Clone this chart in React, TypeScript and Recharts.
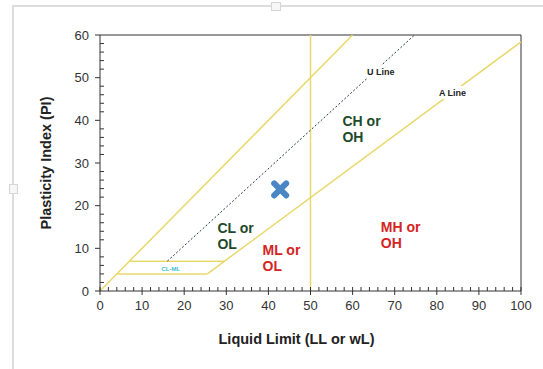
import React from "react";
import {
  ComposedChart,
  Line,
  Scatter,
  XAxis,
  YAxis,
  ReferenceLine,
} from "recharts";

// ---- data ----
const xTicks = [0, 2, 4, 6, 8, 10, 12, 14, 16, 18, 20, 22, 24, 26, 28, 30, 32, 34, 36, 38, 40, 42, 44, 46, 48, 50, 52, 54, 56, 58, 60, 62, 64, 66, 68, 70, 72, 74, 76, 78, 80, 82, 84, 86, 88, 90, 92, 94, 96, 98, 100];
const yTicks = [0, 2, 4, 6, 8, 10, 12, 14, 16, 18, 20, 22, 24, 26, 28, 30, 32, 34, 36, 38, 40, 42, 44, 46, 48, 50, 52, 54, 56, 58, 60];

const uLine = [{ ll: 16, pi: 7 }, { ll: 74.7, pi: 60 }];
const aLine = [{ ll: 25.5, pi: 4 }, { ll: 100, pi: 58.4 }];
const upperLine = [{ ll: 0, pi: 0 }, { ll: 60, pi: 60 }];
const boxTop = [{ ll: 7, pi: 7 }, { ll: 29.5, pi: 7 }];
const boxBottom = [{ ll: 4, pi: 4 }, { ll: 25.5, pi: 4 }];
const llLine = [{ ll: 50, pi: 0 }, { ll: 50, pi: 60 }];

const samplePoint = [{ ll: 42.8, pi: 23.8 }];

const zoneNames = [["CL or", "OL"], ["ML or", "OL"], ["CH or", "OH"], ["MH or", "OH"]];
const zoneLL = [27.9, 38.6, 57.6, 66.7];
const zonePI = [14.8, 9.6, 39.8, 15];
const zoneKind = ["clay", "silt", "clay", "silt"];

const smallNames = ["CL-ML", "U Line", "A Line"];
const smallLL = [16.8, 63.4, 80.5];
const smallPI = [5.3, 51.3, 46.4];

const zoneData = zoneNames.map((n, i) => ({ ll: zoneLL[i], pi: zonePI[i], lines: n, kind: zoneKind[i] }));
const smallData = smallNames.map((n, i) => ({ ll: smallLL[i], pi: smallPI[i], name: n }));

const YELLOW = "#e9d86c";
const FONT = "Arial, 'Liberation Sans', sans-serif";

const XTick = (props: any) => {
  const { x, y, payload } = props;
  const v = payload.value;
  const major = v % 10 === 0;
  return (
    <g>
      {major ? (
        <line x1={x} x2={x} y1={y - 4} y2={y + 4} stroke="#333" />
      ) : (
        <line x1={x} x2={x} y1={y} y2={y - 4} stroke="#333" />
      )}
      {major && (
        <text x={x} y={y + 19} textAnchor="middle" fontSize={13} fill="#333" fontFamily={FONT}>
          {v}
        </text>
      )}
    </g>
  );
};

const YTick = (props: any) => {
  const { x, y, payload } = props;
  const v = payload.value;
  const major = v % 10 === 0;
  return (
    <g>
      {major ? (
        <line x1={x - 5} x2={x} y1={y} y2={y} stroke="#333" />
      ) : (
        <line x1={x} x2={x + 4} y1={y} y2={y} stroke="#333" />
      )}
      {major && (
        <text x={x - 11} y={y + 4.5} textAnchor="end" fontSize={13} fill="#333" fontFamily={FONT}>
          {v}
        </text>
      )}
    </g>
  );
};

const ZoneLabel = (props: any) => {
  const { cx, cy, payload } = props;
  const color = payload.kind === "clay" ? "#1d4a2a" : "#d42424";
  return (
    <text x={cx} y={cy + 5} fontSize={14} fontWeight="bold" fill={color} fontFamily={FONT}>
      <tspan x={cx}>{payload.lines[0]}</tspan>
      <tspan x={cx} dy={16}>{payload.lines[1]}</tspan>
    </text>
  );
};

const SmallLabel = (props: any) => {
  const { cx, cy, payload } = props;
  const isCLML = payload.name === "CL-ML";
  if (isCLML) {
    return (
      <text x={cx} y={cy + 2.5} fontSize={6} fontWeight="bold" textAnchor="middle" fill="#3cc0d0" fontFamily={FONT}>
        {payload.name}
      </text>
    );
  }
  return (
    <g>
      <rect x={cx - 2} y={cy - 7} width={32} height={13} fill="#fff" />
      <text x={cx} y={cy + 3} fontSize={9} fontWeight="bold" fill="#222" fontFamily={FONT}>
        {payload.name}
      </text>
    </g>
  );
};

const Cross = (props: any) => {
  const { cx, cy } = props;
  const d = 6;
  return (
    <g stroke="#4a86c4" strokeWidth={6} strokeLinecap="round">
      <line x1={cx - d} y1={cy - d} x2={cx + d} y2={cy + d} />
      <line x1={cx - d} y1={cy + d} x2={cx + d} y2={cy - d} />
    </g>
  );
};

export default function App() {
  return (
    <div style={{ position: "fixed", left: 0, top: 0, width: 543, height: 369, background: "#fff", overflow: "hidden" }}>
      <div style={{ position: "absolute", left: 12, top: 5, width: 600, height: 400, border: "2px solid #dcdcdc", boxSizing: "border-box" }} />
      <div style={{ position: "absolute", left: 271, top: 2, width: 8, height: 7, border: "1px solid #d6d6d6", background: "#f6f6f6" }} />
      <div style={{ position: "absolute", left: 9, top: 184, width: 7, height: 8, border: "1px solid #d6d6d6", background: "#f6f6f6" }} />
      <div style={{ position: "absolute", left: 0, top: 0 }}>
        <ComposedChart width={543} height={369} margin={{ top: 35, right: 22, bottom: 30, left: 40 }}>
          <XAxis
            dataKey="ll"
            type="number"
            domain={[0, 100]}
            ticks={xTicks}
            interval={0}
            tickSize={0}
            tickMargin={0}
            tickLine={false}
            tick={<XTick />}
            height={48}
            stroke="#333"
            allowDataOverflow
            label={{
              content: (p: any) => {
                const vb = p.viewBox;
                return (
                  <text x={vb.x + vb.width / 2 - 14} y={vb.y + 53} textAnchor="middle" fontSize={14.5} fontWeight="bold" fill="#222" fontFamily={FONT}>
                    Liquid Limit (LL or wL)
                  </text>
                );
              },
            }}
          />
          <YAxis
            type="number"
            domain={[0, 60]}
            ticks={yTicks}
            interval={0}
            tickSize={0}
            tickMargin={0}
            tickLine={false}
            tick={<YTick />}
            width={60}
            stroke="#333"
            allowDataOverflow
            label={{
              content: (p: any) => {
                const vb = p.viewBox;
                const cx = 46;
                const cy = vb.y + vb.height / 2;
                return (
                  <text x={cx} y={cy} transform={`rotate(-90 ${cx} ${cy})`} textAnchor="middle" dominantBaseline="central" fontSize={14.5} fontWeight="bold" fill="#222" fontFamily={FONT}>
                    Plasticity Index (PI)
                  </text>
                );
              },
            }}
          />
          <ReferenceLine y={60} stroke="#333" />
          <ReferenceLine x={100} stroke="#333" />
          <Line data={upperLine} dataKey="pi" type="linear" stroke={YELLOW} strokeWidth={1.5} dot={false} isAnimationActive={false} />
          <Line data={aLine} dataKey="pi" type="linear" stroke={YELLOW} strokeWidth={1.5} dot={false} isAnimationActive={false} />
          <Line data={boxTop} dataKey="pi" type="linear" stroke={YELLOW} strokeWidth={1.5} dot={false} isAnimationActive={false} />
          <Line data={boxBottom} dataKey="pi" type="linear" stroke={YELLOW} strokeWidth={1.5} dot={false} isAnimationActive={false} />
          <Line data={llLine} dataKey="pi" type="linear" stroke={YELLOW} strokeWidth={1.5} dot={false} isAnimationActive={false} />
          <Line data={uLine} dataKey="pi" type="linear" stroke="#2a3550" strokeWidth={1} strokeDasharray="2 2" dot={false} isAnimationActive={false} />
          <Scatter data={samplePoint} dataKey="pi" shape={<Cross />} isAnimationActive={false} />
          <Scatter data={zoneData} dataKey="pi" shape={<ZoneLabel />} isAnimationActive={false} />
          <Scatter data={smallData} dataKey="pi" shape={<SmallLabel />} isAnimationActive={false} />
        </ComposedChart>
      </div>
    </div>
  );
}
